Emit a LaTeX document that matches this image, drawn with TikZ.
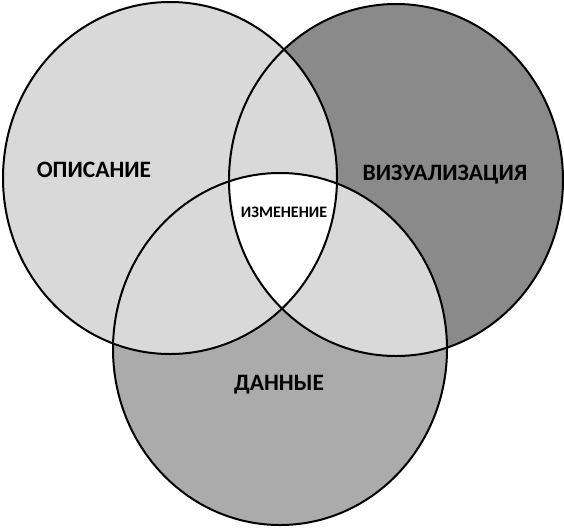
\documentclass[tikz,border=0pt]{standalone}
\usepackage{fontspec}
\setmainfont{Carlito}
\definecolor{lightfill}{gray}{0.85}
\definecolor{midfill}{gray}{0.67}
\definecolor{darkfill}{gray}{0.54}
\begin{document}
\begin{tikzpicture}[
	x=1pt, y=-1pt,
	big/.style={
		font=\bfseries\fontsize{23.5}{25}\selectfont,
		align=center
	},
	small/.style={
		font=\bfseries\fontsize{16}{18}\selectfont,
		align=center
	},
	ring/.style={
		draw=black,
		line width=2pt
	},
	oval/.style={
		x radius=167,
		y radius=176
	},
]
\useasboundingbox (0,0) rectangle (564,528);

\coordinate (opis) at (170, 178);
\coordinate (vis) at (396, 180);
\coordinate (dan) at (280, 349);

% single areas
\fill[darkfill] (vis) ellipse [oval];
\fill[midfill] (dan) ellipse [oval];
\fill[lightfill] (opis) ellipse [oval];

% overlap of the right and bottom sets
\begin{scope}
	\clip (vis) ellipse [oval];
	\fill[lightfill] (dan) ellipse [oval];
\end{scope}

% common part
\begin{scope}
	\clip (opis) ellipse [oval];
	\clip (vis) ellipse [oval];
	\fill[white] (dan) ellipse [oval];
\end{scope}

\foreach \c in {opis, vis, dan}
	\draw[ring] (\c) ellipse [oval];

\node[big] (lopis) at (94, 170) {ОПИСАНИЕ};
\node[big] (lvis) at (445, 174.5) {ВИЗУАЛИЗАЦИЯ};
\node[big] (ldan) at (279, 385) {ДАННЫЕ};
\node[small] (lizm) at (284, 212) {ИЗМЕНЕНИЕ};

\end{tikzpicture}
\end{document}
